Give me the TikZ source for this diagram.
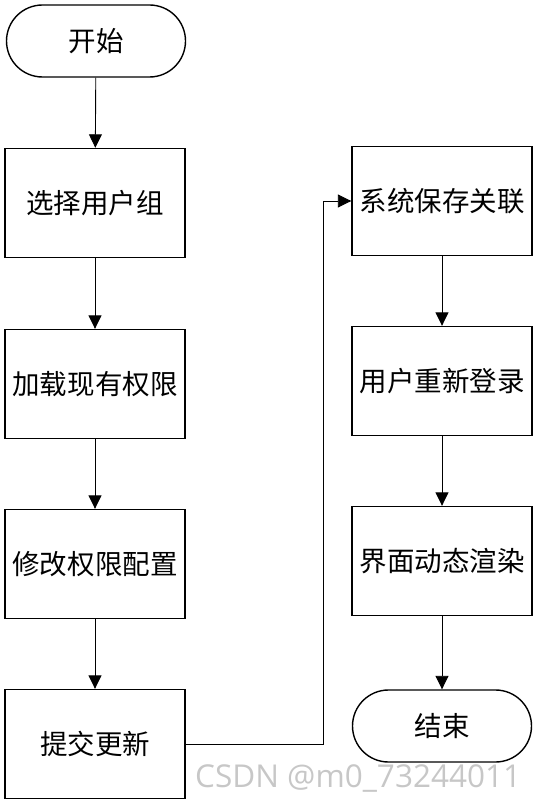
\documentclass[tikz,border=0pt]{standalone}
\usepackage{fontspec}
\setmainfont{Noto Sans CJK SC}
\newfontfamily\wmfont{Open Sans}
\usetikzlibrary{arrows.meta}
\tikzset{
  proc/.style={draw,line width=1.4pt,minimum width=180pt,minimum height=109pt,inner sep=0pt,font=\fontsize{27.5}{32}\selectfont},
  term/.style={proc,minimum width=179pt,minimum height=72pt,rounded corners=36pt},
  flow/.style={line width=0.9pt,-{Triangle[length=13.5pt,width=13pt]}}
}
\begin{document}
\begin{tikzpicture}[x=1pt,y=-1pt,line join=miter]
\useasboundingbox (0,0) rectangle (536,802);
% left column
\node[term] (start) at (96,41) {开始};
\node[proc] (group) at (95,203) {选择用户组};
\node[proc] (load) at (95,384) {加载现有权限};
\node[proc] (edit) at (95,564) {修改权限配置};
\node[proc] (submit) at (95,744) {提交更新};
% right column
\node[proc] (save) at (442,201) {系统保存关联};
\node[proc] (relogin) at (442,381) {用户重新登录};
\node[proc] (render) at (442,561) {界面动态渲染};
\node[term] (stop) at (442,726) {结束};
% connectors
\draw[flow] (start) -- (group);
\draw[flow] (group) -- (load);
\draw[flow] (load) -- (edit);
\draw[flow] (edit) -- (submit);
\draw[flow] (submit.east) -| ([xshift=-28pt]save.west) -- (save.west);
\draw[flow] (save) -- (relogin);
\draw[flow] (relogin) -- (render);
\draw[flow] (render) -- (stop);
% watermark
\node[anchor=base west,inner sep=0pt,text=black!22,font=\wmfont\fontsize{31.5}{36}\selectfont] (mark) at (195,787) {CSDN @m0\_73244011};
\end{tikzpicture}
\end{document}
